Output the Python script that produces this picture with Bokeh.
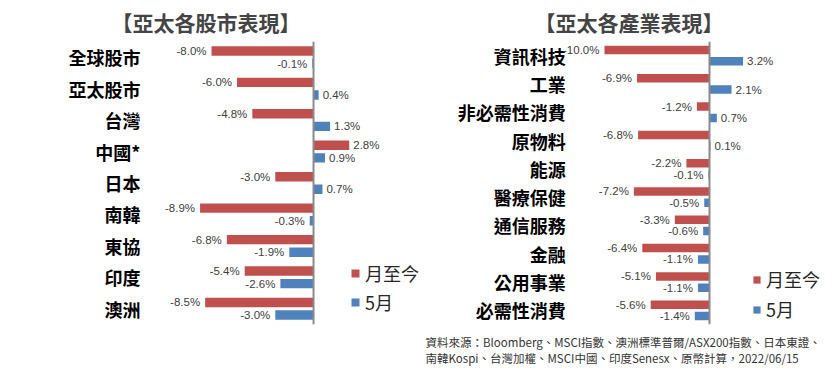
from bokeh.plotting import figure
from bokeh.models import ColumnDataSource, FactorRange, Range1d, Span, Legend, LegendItem, Title
from bokeh.transform import dodge
from bokeh.layouts import row
from bokeh.embed import file_html
from bokeh.resources import INLINE
from bokeh.core.properties import value

# ---------------- data ----------------
market_categories = ["全球股市", "亞太股市", "台灣", "中國*", "日本", "南韓", "東協", "印度", "澳洲"]
market_ytd = [-8.0, -6.0, -4.8, 2.8, -3.0, -8.9, -6.8, -5.4, -8.5]
market_may = [-0.1, 0.4, 1.3, 0.9, 0.7, -0.3, -1.9, -2.6, -3.0]

sector_categories = ["資訊科技", "工業", "非必需性消費", "原物料", "能源",
                     "醫療保健", "通信服務", "金融", "公用事業", "必需性消費"]
sector_ytd = [-10.0, -6.9, -1.2, -6.8, -2.2, -7.2, -3.3, -6.4, -5.1, -5.6]
sector_may = [3.2, 2.1, 0.7, 0.1, -0.1, -0.5, -0.6, -1.1, -1.1, -1.4]

series_names = ["月至今", "5月"]
left_title = "【亞太各股市表現】"
right_title = "【亞太各產業表現】"
source_note = ["資料來源：Bloomberg、MSCI指數、澳洲標準普爾/ASX200指數、日本東證、",
               "南韓Kospi、台灣加權、MSCI中國、印度Senesx、原幣計算，2022/06/15"]

# ---------------- style ----------------
RED = "#C0504D"
BLUE = "#4F81BD"
CJK = "Noto Sans CJK TC"
NUM_FONT = "Liberation Sans"
LABEL_COLOR = "#404040"


def make_source(cats, vals):
    return ColumnDataSource(dict(
        cat=cats, val=vals,
        label=[f"{v:.1f}%" for v in vals],
        align=["right" if v < 0 else "left" for v in vals],
        xoff=[-5 if v < 0 else 4 for v in vals],
    ))


def add_series(p, cats, ytd, may):
    out = []
    for vals, off, col in ((ytd, 0.2, RED), (may, -0.2, BLUE)):
        src = make_source(cats, vals)
        r = p.hbar(y=dodge("cat", off, range=p.y_range), left=0, right="val", height=0.3,
                   source=src, fill_color=col, line_color=None)
        p.text(x="val", y=dodge("cat", off, range=p.y_range), text="label",
               text_align="align", x_offset="xoff", text_baseline="middle",
               text_font=value(NUM_FONT), text_font_size="11.5px", text_color=LABEL_COLOR,
               source=src)
        out.append(r)
    p.add_layout(Span(location=0, dimension="height", line_color="#8a8a8a", line_width=2))
    return out


def style(p):
    p.background_fill_color = "white"
    p.border_fill_color = "white"
    p.outline_line_color = None
    p.xgrid.visible = False
    p.ygrid.visible = False


def add_legend(p, renderers, loc, fsize, gsize, spacing):
    leg = Legend(items=[LegendItem(label=series_names[i], renderers=[renderers[i]]) for i in range(2)],
                 location=loc, padding=0, margin=0, spacing=spacing,
                 glyph_width=gsize, glyph_height=gsize, label_standoff=5,
                 label_text_font=CJK, label_text_font_size=fsize, label_text_color="#262626",
                 background_fill_alpha=0, border_line_alpha=0)
    p.add_layout(leg, "center")


# ---------------- left chart ----------------
pL = figure(width=420, height=372,
            y_range=FactorRange(factors=list(reversed(market_categories)), range_padding=0),
            x_range=Range1d(-13.18, 8.39), x_axis_location=None,
            output_backend="svg", toolbar_location=None,
            min_border_left=145, min_border_right=0, min_border_top=41, min_border_bottom=45)
style(pL)
pL.yaxis.axis_line_color = None
pL.yaxis.major_tick_line_color = None
pL.yaxis.major_tick_in = 0
pL.yaxis.major_tick_out = 0
pL.yaxis.major_label_standoff = 5
pL.yaxis.major_label_text_font = CJK
pL.yaxis.major_label_text_font_size = "18px"
pL.yaxis.major_label_text_font_style = "bold"
pL.yaxis.major_label_text_color = "black"
rL = add_series(pL, market_categories, market_ytd, market_may)
add_legend(pL, rL, (205, 9), "18px", 10, 3)
pL.add_layout(Title(text=left_title, align="left", offset=-34, text_font=CJK,
                    text_font_size="21px", text_font_style="bold", standoff=9), "above")

# ---------------- right chart ----------------
pR = figure(width=419, height=372,
            y_range=FactorRange(factors=list(reversed(sector_categories)), range_padding=0),
            x_range=Range1d(-27.52, 12.38), x_axis_location=None, y_axis_location=None,
            output_backend="svg", toolbar_location=None,
            min_border_left=0, min_border_right=0, min_border_top=41, min_border_bottom=48)
style(pR)
cat_label_x = -13.7
pR.text(x=cat_label_x, y="cat", text="cat", source=ColumnDataSource(dict(cat=sector_categories)),
        text_align="right", text_baseline="middle", text_font=value(CJK),
        text_font_size="18px", text_font_style="bold", text_color="black")
rR = add_series(pR, sector_categories, sector_ytd, sector_may)
add_legend(pR, rR, (332, 2), "18px", 9, 4)
pR.add_layout(Title(text=right_title, align="left", offset=114, text_font=CJK,
                    text_font_size="21px", text_font_style="bold", standoff=9), "above")
pR.add_layout(Title(text="\n".join(source_note), align="left", offset=5, text_font=CJK,
                    text_font_size="11.5px", text_font_style="normal",
                    text_color="#333333", standoff=14), "below")

layout = row(pL, pR, spacing=0)
open("out.html", "w").write(file_html(layout, INLINE))
